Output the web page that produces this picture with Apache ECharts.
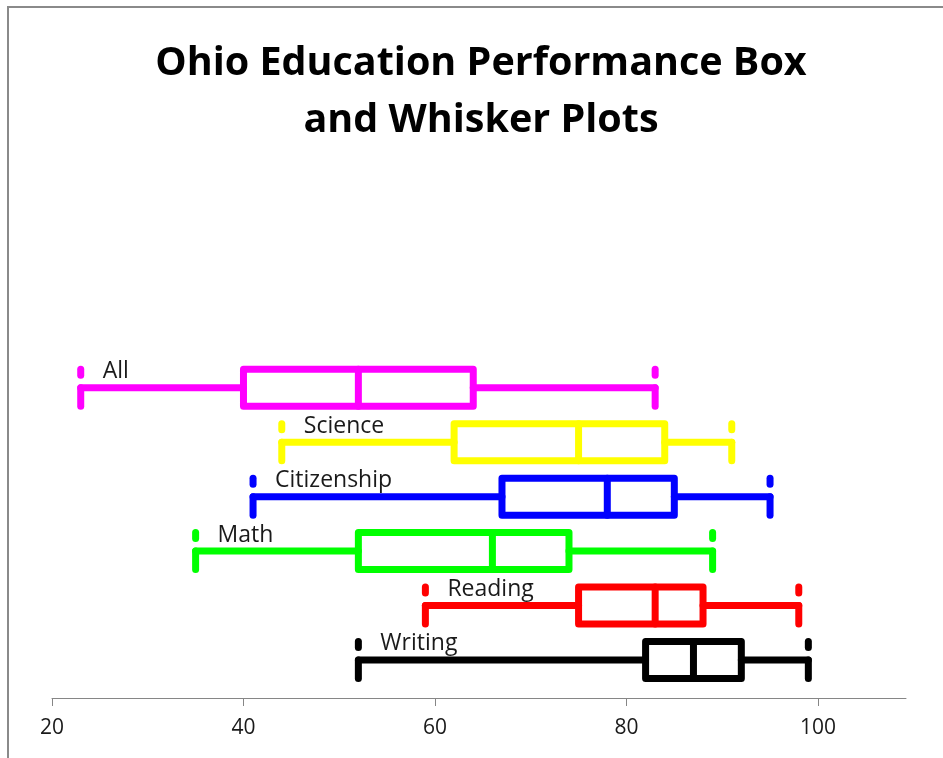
<!DOCTYPE html>
<html>
<head>
<meta charset="utf-8">
<title>Ohio Education Performance Box and Whisker Plots</title>
<script src="https://cdn.jsdelivr.net/npm/echarts@6/dist/echarts.min.js"></script>
<style>
  html, body { margin: 0; padding: 0; background: #fff; }
  #chart { width: 943px; height: 758px; }
</style>
</head>
<body>
<div id="chart"></div>
<script>
// five-number summaries, top row first
const subjects = ["All", "Science", "Citizenship", "Math", "Reading", "Writing"];
const minVals = [23, 44, 41, 35, 59, 52];
const q1Vals = [40, 62, 67, 52, 75, 82];
const medianVals = [52, 75, 78, 66, 83, 87];
const q3Vals = [64, 84, 85, 74, 88, 92];
const maxVals = [83, 91, 95, 89, 98, 99];
const xTicks = [20, 40, 60, 80, 100];

const colors = ["#ff00ff", "#ffff00", "#0000ff", "#00ff00", "#ff0000", "#000000"];

// row 6 = top (All), row 1 = bottom (Writing)
const boxData = subjects.map((s, i) => [
  subjects.length - i, minVals[i], q1Vals[i], medianVals[i], q3Vals[i], maxVals[i]
]);

function renderBox(params, api) {
  const i = params.dataIndex;
  const row = api.value(0);
  const pMin = api.coord([api.value(1), row]);
  const pQ1 = api.coord([api.value(2), row]);
  const pMed = api.coord([api.value(3), row]);
  const pQ3 = api.coord([api.value(4), row]);
  const pMax = api.coord([api.value(5), row]);
  const yc = pMin[1];
  const h = 18.5;
  const color = colors[i];
  const st = { stroke: color, lineWidth: 7, lineCap: "round", lineJoin: "round", fill: null };
  const line = (x1, y1, x2, y2) => ({
    type: "line", shape: { x1: x1, y1: y1, x2: x2, y2: y2 }, style: st
  });
  return {
    type: "group",
    children: [
      line(pMin[0], yc, pQ1[0], yc),
      line(pQ3[0], yc, pMax[0], yc),
      line(pMin[0], yc, pMin[0], yc + h),
      line(pMax[0], yc, pMax[0], yc + h),
      line(pMin[0], yc - h, pMin[0], yc - h + 6),
      line(pMax[0], yc - h, pMax[0], yc - h + 6),
      {
        type: "rect",
        shape: { x: pQ1[0], y: yc - h, width: pQ3[0] - pQ1[0], height: 2 * h },
        style: st
      },
      line(pMed[0], yc - h, pMed[0], yc + h),
      {
        type: "text",
        x: pMin[0] + 22,
        y: yc - 16,
        style: {
          text: subjects[i],
          fill: "#1a1a1a",
          font: "23px 'Open Sans', sans-serif",
          verticalAlign: "middle",
          align: "left"
        }
      }
    ]
  };
}

const chart = echarts.init(document.getElementById("chart"));
chart.setOption({
  animation: false,
  backgroundColor: "#fff",
  graphic: [{
    type: "rect",
    shape: { x: 8, y: 7, width: 1000, height: 1000 },
    style: { fill: null, stroke: "#8a8a8a", lineWidth: 2 },
    silent: true
  }, {
    // title, centred a little right of the page middle like the original
    type: "text",
    x: 481,
    y: 35,
    style: {
      text: "Ohio Education Performance Box\nand Whisker Plots",
      fill: "#000",
      font: "bold 39.5px 'Open Sans', sans-serif",
      lineHeight: 57,
      align: "center",
      verticalAlign: "top"
    },
    silent: true
  }],
  grid: { left: 52, right: 37, top: 279, bottom: 60 },
  xAxis: {
    type: "value",
    min: 20,
    max: 109.2,
    axisLine: { show: true, lineStyle: { color: "#868686", width: 1 } },
    axisTick: { show: true, length: 8, customValues: xTicks, lineStyle: { color: "#868686" } },
    axisLabel: {
      customValues: xTicks,
      color: "#1a1a1a",
      fontSize: 21,
      fontFamily: "'Open Sans', sans-serif",
      margin: 20
    },
    splitLine: { show: false }
  },
  yAxis: {
    type: "value",
    min: 0.3,
    max: 8,
    show: false
  },
  series: [{
    type: "custom",
    renderItem: renderBox,
    encode: { x: [1, 2, 3, 4, 5], y: 0 },
    data: boxData,
    clip: false
  }]
});
</script>
</body>
</html>
